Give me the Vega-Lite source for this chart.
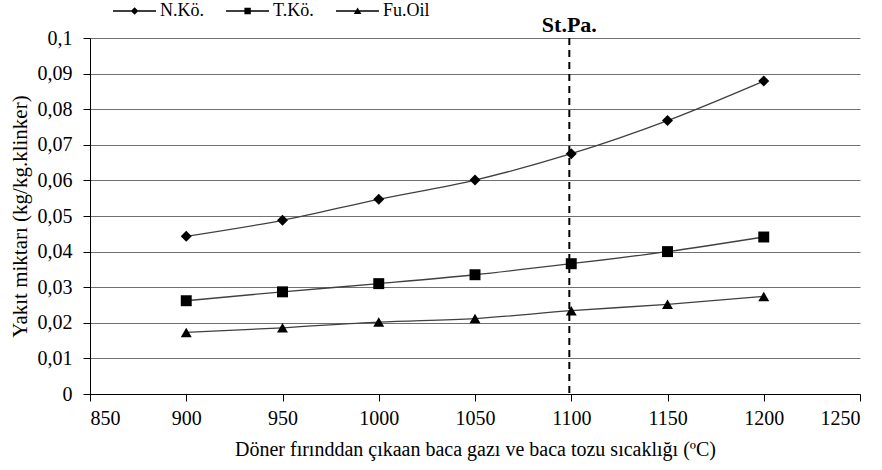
{
  "$schema": "https://vega.github.io/schema/vega-lite/v6.json",
  "width": 770,
  "height": 356,
  "autosize": {"type": "none"},
  "padding": {"left": 90, "top": 38, "right": 22, "bottom": 76},
  "background": "white",
  "config": {
    "view": {"stroke": null},
    "font": "Liberation Serif",
    "style": {"guide-label": {"font": "Liberation Serif"}, "guide-title": {"font": "Liberation Serif"}},
    "axis": {"labelFont": "Liberation Serif", "titleFont": "Liberation Serif", "labelColor": "black", "titleColor": "black", "titleFontWeight": "normal"},
    "legend": {"labelFont": "Liberation Serif", "labelColor": "black"}
  },
  "datasets": {
    "series": [
      {"T": 900, "Y": 0.0443, "S": "N.Kö."},
      {"T": 950, "Y": 0.0488, "S": "N.Kö."},
      {"T": 1000, "Y": 0.0547, "S": "N.Kö."},
      {"T": 1050, "Y": 0.0601, "S": "N.Kö."},
      {"T": 1100, "Y": 0.0675, "S": "N.Kö."},
      {"T": 1150, "Y": 0.0768, "S": "N.Kö."},
      {"T": 1200, "Y": 0.0879, "S": "N.Kö."},
      {"T": 900, "Y": 0.0262, "S": "T.Kö."},
      {"T": 950, "Y": 0.0287, "S": "T.Kö."},
      {"T": 1000, "Y": 0.0310, "S": "T.Kö."},
      {"T": 1050, "Y": 0.0335, "S": "T.Kö."},
      {"T": 1100, "Y": 0.0366, "S": "T.Kö."},
      {"T": 1150, "Y": 0.0400, "S": "T.Kö."},
      {"T": 1200, "Y": 0.0441, "S": "T.Kö."},
      {"T": 900, "Y": 0.0173, "S": "Fu.Oil"},
      {"T": 950, "Y": 0.0186, "S": "Fu.Oil"},
      {"T": 1000, "Y": 0.0202, "S": "Fu.Oil"},
      {"T": 1050, "Y": 0.0212, "S": "Fu.Oil"},
      {"T": 1100, "Y": 0.0234, "S": "Fu.Oil"},
      {"T": 1150, "Y": 0.0252, "S": "Fu.Oil"},
      {"T": 1200, "Y": 0.0274, "S": "Fu.Oil"}
    ],
    "marker": [{"T": 1099, "Y": 0.1, "label": "St.Pa."}]
  },
  "encoding": {
    "x": {"field": "T", "type": "quantitative", "scale": {"domain": [850, 1250], "nice": false},
      "axis": {"values": [850, 900, 950, 1000, 1050, 1100, 1150, 1200, 1250], "grid": false, "labelOverlap": false, "domainColor": "black", "tickColor": "black", "tickSize": 7, "labelPadding": 7, "labelFont": "Liberation Serif", "labelFontSize": 20, "format": "d", "title": "Döner fırınddan çıkaan baca gazı ve baca tozu sıcaklığı (ºC)", "titleFont": "Liberation Serif", "titleFontSize": 20, "titlePadding": 11}},
    "y": {"field": "Y", "type": "quantitative", "scale": {"domain": [0, 0.1], "nice": false},
      "axis": {"values": [0, 0.01, 0.02, 0.03, 0.04, 0.05, 0.06, 0.07, 0.08, 0.09, 0.1], "grid": true, "labelOverlap": false, "gridColor": "#707070", "gridWidth": 1.2, "domainColor": "black", "tickColor": "black", "tickSize": 7, "labelPadding": 11, "labelFont": "Liberation Serif", "labelFontSize": 20, "labelExpr": "replace(format(datum.value, '~g'), '.', ',')", "title": "Yakıt miktarı  (kg/kg.klinker)", "titleFont": "Liberation Serif", "titleFontSize": 21, "titlePadding": 7}}
  },
  "resolve": {"scale": {"shape": "independent"}, "legend": {"shape": "independent"}},
  "layer": [
    {
      "data": {"name": "series"},
      "mark": {"type": "line", "interpolate": "monotone", "color": "#404040", "strokeWidth": 1.3},
      "encoding": {
        "detail": {"field": "S"}
      }
    },
    {
      "data": {"name": "series"},
      "mark": {"type": "point", "filled": true, "opacity": 1, "color": "black", "size": 120},
      "encoding": {
        "shape": {"field": "S", "type": "nominal",
          "scale": {"domain": ["N.Kö.", "T.Kö.", "Fu.Oil"], "range": ["diamond", "square", "triangle-up"]},
          "legend": null}
      }
    },
    {
      "data": {"name": "series"},
      "mark": {"type": "point", "filled": true, "opacity": 0, "color": "black", "size": 64},
      "encoding": {
        "shape": {"field": "S", "type": "nominal",
          "scale": {"domain": ["N.Kö.", "T.Kö.", "Fu.Oil"], "range": [
            "M-1,-0.16H9.75V0.16H-1Z M4.4,-0.95L5.35,0L4.4,0.95L3.45,0Z",
            "M-1,-0.16H9.75V0.16H-1Z M3.6,-0.8H5.2V0.8H3.6Z",
            "M-1,-0.16H9.75V0.16H-1Z M4.4,-0.9L5.35,0.75H3.45Z"]},
          "legend": {"title": null, "orient": "none", "direction": "horizontal", "legendX": 18, "legendY": -36,
            "symbolSize": 64, "symbolFillColor": "black", "symbolStrokeColor": "black", "symbolStrokeWidth": 0, "symbolOpacity": 1,
            "labelFont": "Liberation Serif", "labelFontSize": 18, "labelOffset": 34, "columnPadding": 17}}
      }
    },
    {
      "data": {"name": "marker"},
      "mark": {"type": "rule", "color": "black", "strokeWidth": 2, "strokeDash": [7, 5]},
      "encoding": {"y": null}
    },
    {
      "data": {"name": "marker"},
      "mark": {"type": "text", "font": "Liberation Serif", "fontWeight": "bold", "fontSize": 22, "baseline": "bottom", "dy": -1, "color": "black"},
      "encoding": {
        "text": {"field": "label"}
      }
    }
  ]
}
